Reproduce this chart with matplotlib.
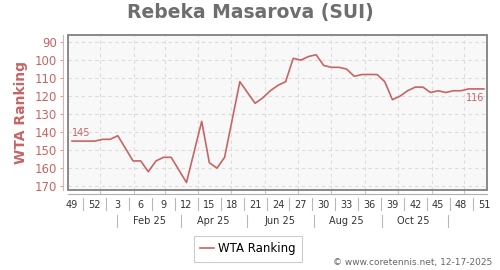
import datetime as dt
import numpy as np
import matplotlib
matplotlib.use("Agg")
import matplotlib.pyplot as plt
import matplotlib.dates as mdates
from matplotlib.patches import Rectangle
from matplotlib.transforms import blended_transform_factory

# weekly WTA ranking, week 49/2024 .. week 51/2025
weeks = [49, 50, 51, 52] + list(range(1, 52))
ranking = [145, 145, 145, 145, 144, 144, 142, 149, 156, 156,
           162, 156, 154, 154, 161, 168, 151, 134, 157, 160,
           154, 133, 112, 118, 124, 121, 117, 114, 112, 99,
           100, 98, 97, 103, 104, 104, 105, 109, 108, 108,
           108, 112, 122, 120, 117, 115, 115, 118, 117, 118,
           117, 117, 116, 116, 116]
month_labels = ["Feb 25", "Apr 25", "Jun 25", "Aug 25", "Oct 25"]
yticks = [90, 100, 110, 120, 130, 140, 150, 160, 170]

red = "#c86464"
start = dt.date(2024, 12, 6)
dates = [start + dt.timedelta(days=7 * i) for i in range(len(ranking))]
x = mdates.date2num(dates)

fig = plt.figure(figsize=(5, 2.7), dpi=100)
ax = fig.add_axes([0.136, 0.296, 0.838, 0.574])
ax.set_facecolor("#f8f8f8")

ax.plot(x, ranking, color=red, lw=1.2, label="WTA Ranking", zorder=3)

ax.set_ylim(172.2, 86.1)
ax.set_xlim(x[0] - 3.7, x[0] + 54.4 * 7)
ax.set_yticks(yticks)

# month grid
ax.xaxis.set_major_locator(mdates.MonthLocator())
ax.xaxis.set_major_formatter(plt.NullFormatter())
ax.grid(True, color="#dcdcdc", ls=(0, (3, 3)), lw=0.8)

for s in ["top", "right"]:
    ax.spines[s].set_visible(False)
ax.spines["left"].set_position(("outward", 3.6))
ax.spines["left"].set_color("#e6b0b0")
ax.spines["bottom"].set_position(("outward", 3))
ax.spines["bottom"].set_color("#b0b0b0")
ax.tick_params(axis="y", colors="#d8a0a0", labelcolor=red, labelsize=8.5,
               length=2.5, width=0.8, pad=2)
ax.tick_params(axis="x", colors="#c8c8c8", direction="in", length=3, width=0.8)
ax.add_patch(Rectangle((0, 0), 1, 1, transform=ax.transAxes, fill=False,
                       ec="#808080", lw=1.3, clip_on=False, zorder=4))

# week labels with separators
tr = blended_transform_factory(ax.transData, ax.transAxes)
for i in range(0, len(weeks), 3):
    ax.text(x[i], -0.097, str(weeks[i]), transform=tr, ha="center",
            va="center", fontsize=7, color="#333333")
    if i + 3 < len(weeks):
        xm = (x[i] + x[i + 3]) / 2
        ax.plot([xm, xm], [-0.052, -0.129], transform=tr, color="#b8b8b8",
                lw=0.8, clip_on=False)

# month labels
mids = [mdates.date2num(dt.date(2025, m, 15)) for m in (2, 4, 6, 8, 10)]
seps = [mdates.date2num(dt.date(2025, m, 16)) for m in (1, 3, 5, 7, 9, 11)]
for m, lab in zip(mids, month_labels):
    ax.text(m, -0.2, lab, transform=tr, ha="center", va="center",
            fontsize=7, color="#333333")
for s in seps:
    ax.plot([s, s], [-0.161, -0.239], transform=tr, color="#b8b8b8",
            lw=0.8, clip_on=False)

ax.annotate(str(ranking[0]), (x[0], ranking[0]), xytext=(0, 6),
            textcoords="offset points", ha="left", va="center",
            fontsize=7, color=red)
ax.annotate(str(ranking[-1]), (x[-1], ranking[-1]), xytext=(0, -6.3),
            textcoords="offset points", ha="right", va="center",
            fontsize=7, color=red)

fig.text(0.5, 0.952, "Rebeka Masarova (SUI)", ha="center", va="center",
         fontsize=13.5, fontweight="bold", color="#6e6e6e")
fig.text(0.042, 0.585, "WTA Ranking", rotation=90, ha="center", va="center",
         fontsize=10, fontweight="bold", color=red)

leg = fig.legend(loc="center", bbox_to_anchor=(0.496, 0.078), fontsize=8.5,
                 fancybox=False, edgecolor="#c0c0c0", handlelength=1.2,
                 borderpad=0.55, handletextpad=0.35, borderaxespad=0)
leg.get_frame().set_linewidth(0.8)

fig.text(0.984, 0.026, "\u00a9 www.coretennis.net, 12-17-2025", ha="right",
         va="center", fontsize=6.5, color="#666666")

fig.savefig("out.png", dpi=100)
